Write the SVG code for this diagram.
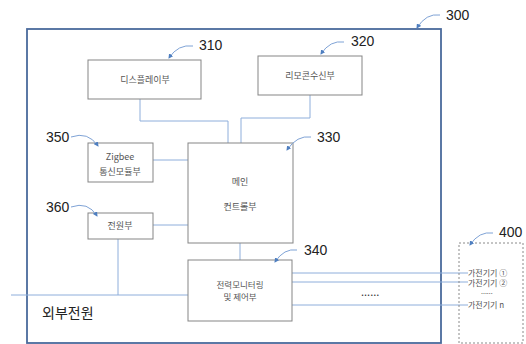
<svg xmlns="http://www.w3.org/2000/svg" width="526" height="344" viewBox="0 0 526 344">
<defs>
<marker id="ah" viewBox="0 0 10 10" refX="8" refY="5" markerWidth="5" markerHeight="5" orient="auto" markerUnits="userSpaceOnUse">
<path d="M0,0 L10,5 L0,10 z" fill="#4f7fc0"/>
</marker>
</defs>
<style>
.box{fill:#fff;stroke:#858585;stroke-width:1}
.outer{fill:none;stroke:#4a6a9c;stroke-width:1.8}
.dash{fill:none;stroke:#8a8a8a;stroke-width:1;stroke-dasharray:2,2}
.con{fill:none;stroke:#8eaedb;stroke-width:1}
.lead{fill:none;stroke:#7fa3d6;stroke-width:1;marker-end:url(#ah)}
.t{font-family:"Noto Sans CJK KR","Noto Sans",sans-serif;font-size:9px;fill:#555555;text-anchor:middle}
.s{font-family:"Noto Sans CJK KR","Noto Sans",sans-serif;font-size:8px;fill:#555555}
.num{font-family:"Liberation Sans",Arial,sans-serif;font-size:14px;fill:#222222}
.big{font-family:"Noto Sans CJK KR","Noto Sans",sans-serif;font-size:14px;fill:#222222}
</style>
<rect width="526" height="344" fill="#ffffff"/>
<g id="n300">
<rect class="outer" x="27" y="29" width="414" height="314"/>
<text class="num" x="446" y="20">300</text>
<path class="lead" d="M440,15 Q426,13 417,28"/>
</g>
<g id="connectors">
<path class="con" d="M140,99 V121 H228 V143"/>
<path class="con" d="M310,95 V118 H241 V143"/>
<path class="con" d="M153,160 H188"/>
<path class="con" d="M153,225 H188"/>
<path class="con" d="M118,239 V295"/>
<path class="con" d="M11,295 H188"/>
<path class="con" d="M240,243 V260"/>
<path class="con" d="M292,273 H468"/>
<path class="con" d="M292,282 H468"/>
<path class="con" d="M292,305 H468"/>
</g>
<g id="n310">
<rect class="box" x="88" y="60" width="113" height="39"/>
<text class="t" x="145" y="83">디스플레이부</text>
<text class="num" x="199" y="50">310</text>
<path class="lead" d="M193,46 Q178,44 169,58"/>
</g>
<g id="n320">
<rect class="box" x="258" y="56" width="104" height="39"/>
<text class="t" x="310" y="79">리모콘수신부</text>
<text class="num" x="351" y="46">320</text>
<path class="lead" d="M344,42 Q330,40 321,54"/>
</g>
<g id="n330">
<rect class="box" x="188" y="143" width="105" height="100"/>
<text class="t" x="240" y="185">메인</text>
<text class="t" x="240" y="210">컨트롤부</text>
<text class="num" x="317" y="142">330</text>
<path class="lead" d="M311,137 Q297,135 287,150"/>
</g>
<g id="n350">
<rect class="box" x="88" y="143" width="65" height="39"/>
<text class="t" x="120" y="160">Zigbee</text>
<text class="t" x="120" y="175">통신모듈부</text>
<text class="num" x="46" y="142">350</text>
<path class="lead" d="M71,137 Q88,131 98,146"/>
</g>
<g id="n360">
<rect class="box" x="88" y="213" width="65" height="26"/>
<text class="t" x="120" y="229">전원부</text>
<text class="num" x="46" y="212">360</text>
<path class="lead" d="M71,207 Q88,201 97,216"/>
</g>
<g id="n340">
<rect class="box" x="188" y="260" width="104" height="61"/>
<text class="t" x="240" y="288" style="font-size:8.5px">전력모니터링</text>
<text class="t" x="240" y="300" style="font-size:8.5px">및 제어부</text>
<text class="num" x="304" y="255">340</text>
<path class="lead" d="M297,250 Q284,248 275,262"/>
</g>
<g id="dots">
<text class="s" x="361" y="296" style="font-size:11px;fill:#333333">......</text>
</g>
<g id="ext">
<text class="big" x="42" y="318">외부전원</text>
</g>
<g id="n400">
<rect class="dash" x="459" y="243" width="64" height="100"/>
<text class="s" x="468" y="276">가전기기 ①</text>
<text class="s" x="468" y="285.5">가전기기 ②</text>
<text class="s" x="481" y="294" style="font-size:7px">......</text>
<text class="s" x="468" y="308">가전기기  n</text>
<text class="num" x="499" y="237">400</text>
<path class="lead" d="M493,233 Q479,231 470,245"/>
</g>
</svg>
